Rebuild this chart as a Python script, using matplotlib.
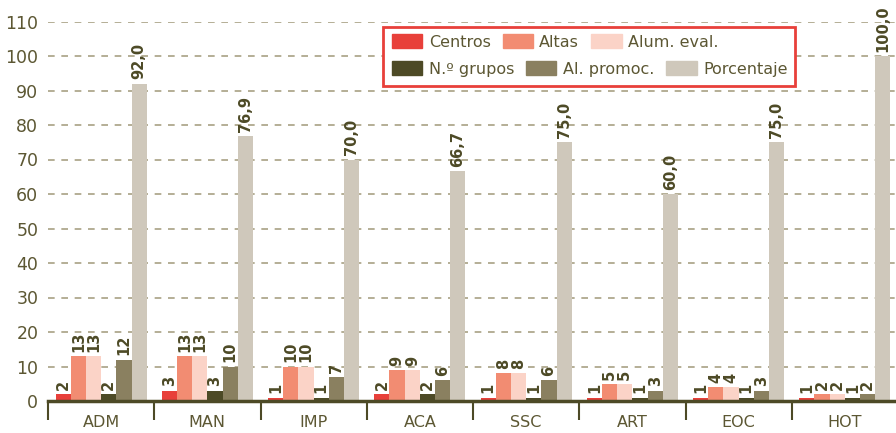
import numpy as np
import matplotlib.pyplot as plt
from matplotlib.patches import Patch, Rectangle

plt.rcParams['font.family'] = ['DejaVu Sans']

categories = ["ADM", "MAN", "IMP", "ACA", "SSC", "ART", "EOC", "HOT"]
centros = [2, 3, 1, 2, 1, 1, 1, 1]
altas = [13, 13, 10, 9, 8, 5, 4, 2]
alum_eval = [13, 13, 10, 9, 8, 5, 4, 2]
n_grupos = [2, 3, 1, 2, 1, 1, 1, 1]
al_promoc = [12, 10, 7, 6, 6, 3, 3, 2]
porcentaje = [92.0, 76.9, 70.0, 66.7, 75.0, 60.0, 75.0, 100.0]

series = [
    ("Centros", centros, "#e8403a", False),
    ("Altas", altas, "#f28c72", False),
    ("Alum. eval.", alum_eval, "#fbd3c7", False),
    ("N.º grupos", n_grupos, "#4d4a26", False),
    ("Al. promoc.", al_promoc, "#8a8060", False),
    ("Porcentaje", porcentaje, "#cfc8bb", True),
]

TEXT = "#5c5733"
DARK = "#4d4a26"

fig = plt.figure(figsize=(8.96, 4.33), dpi=100)
ax = fig.add_axes([48 / 896, 32 / 433, 850 / 896, 379.5 / 433])

x = np.arange(len(categories))
w = 0.143
for j, (name, vals, color, pct) in enumerate(series):
    pos = x + (j - 2.5) * w
    ax.bar(pos, vals, width=w, color=color, zorder=3)
    for p, v in zip(pos, vals):
        lab = f"{v:.1f}".replace(".", ",") if pct else str(v)
        ax.annotate(lab, (p, v), xytext=(0, 3), textcoords="offset points",
                    rotation=90, ha="center", va="bottom", fontsize=10.5,
                    fontweight="bold", color=DARK, annotation_clip=False)

ax.set_xlim(-0.5, len(categories) - 0.5)
ax.set_ylim(0, 110)
ax.set_yticks(np.arange(0, 111, 10))
ax.tick_params(axis="y", length=0, labelsize=12.5, labelcolor=TEXT, pad=7)

ax.set_xticks(x)
ax.set_xticklabels(categories)
ax.set_xticks(np.arange(len(categories)) - 0.5, minor=True)
ax.tick_params(axis="x", which="major", length=0, labelsize=11.5,
               labelcolor=TEXT, pad=10)
ax.tick_params(axis="x", which="minor", length=14, width=1.5, color=DARK)

for yv in range(10, 111, 10):
    ax.axhline(yv, color="#a8a184", linestyle=(0, (4, 4)), linewidth=1.2, zorder=1)

for s in ["top", "right", "left"]:
    ax.spines[s].set_visible(False)
ax.spines["bottom"].set_color(DARK)
ax.spines["bottom"].set_linewidth(2.5)
ax.spines["bottom"].set_zorder(4)

# legend: white box with red border, two rows laid out like the original
fig.patches.append(Rectangle((383 / 896, 1 - 86 / 433), 412 / 896, 59 / 433,
                             transform=fig.transFigure, facecolor="white",
                             edgecolor="#e8403a", linewidth=2, zorder=5))
handles = [Patch(color=c, label=n) for n, _, c, _ in series]
for row, y in ((handles[:3], 42), (handles[3:], 69)):
    leg = fig.legend(handles=row, ncol=3, loc="center left",
                     bbox_to_anchor=(392 / 896, 1 - y / 433),
                     fontsize=11.5, frameon=False, handlelength=1.9,
                     handleheight=0.9, columnspacing=0.75, handletextpad=0.4,
                     borderpad=0, borderaxespad=0)
    for t in leg.get_texts():
        t.set_color(TEXT)
    leg.set_zorder(6)

fig.savefig("out.png", dpi=100)
